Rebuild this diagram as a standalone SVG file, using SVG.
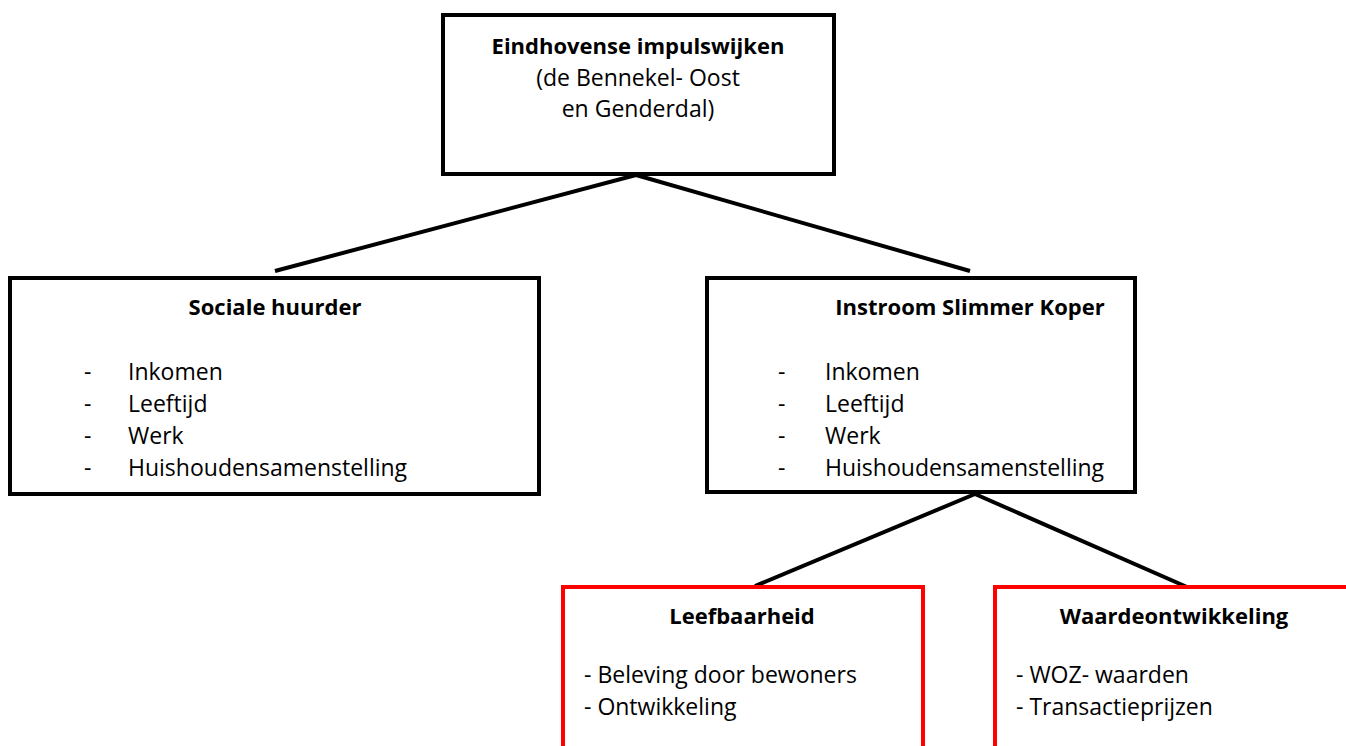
<svg xmlns="http://www.w3.org/2000/svg" width="1346" height="746" viewBox="0 0 1346 746">
<style>
.box{fill:#fff;stroke:#000;stroke-width:4}
.red{fill:#fff;stroke:#ff0000;stroke-width:4}
.conn{stroke:#000;stroke-width:4;fill:none}
text{font-family:"Open Sans","Liberation Sans",sans-serif;font-size:23px;fill:#000}
.b{font-weight:bold;font-size:22px}
.c{text-anchor:middle}
</style>
<rect width="1346" height="746" fill="#fff"/>
<g id="connectors">
<line class="conn" x1="636" y1="175" x2="275" y2="271"/>
<line class="conn" x1="636" y1="175" x2="970" y2="271"/>
<line class="conn" x1="975" y1="494" x2="755" y2="586"/>
<line class="conn" x1="975" y1="494" x2="1187" y2="587"/>
</g>
<g id="top">
<rect class="box" x="443" y="15" width="391" height="159"/>
<text class="b c" x="638" y="54">Eindhovense impulswijken</text>
<text class="c" x="638" y="86">(de Bennekel- Oost</text>
<text class="c" x="638" y="117">en Genderdal)</text>
</g>
<g id="sociale">
<rect class="box" x="10" y="278" width="529" height="216"/>
<text class="b c" x="275" y="315">Sociale huurder</text>
<text x="84" y="380">-</text><text x="128" y="380">Inkomen</text>
<text x="84" y="412">-</text><text x="128" y="412">Leeftijd</text>
<text x="84" y="444">-</text><text x="128" y="444">Werk</text>
<text x="84" y="476">-</text><text x="128" y="476">Huishoudensamenstelling</text>
</g>
<g id="instroom">
<rect class="box" x="707" y="278" width="428" height="214"/>
<text class="b c" x="970" y="315">Instroom Slimmer Koper</text>
<text x="778" y="380">-</text><text x="825" y="380">Inkomen</text>
<text x="778" y="412">-</text><text x="825" y="412">Leeftijd</text>
<text x="778" y="444">-</text><text x="825" y="444">Werk</text>
<text x="778" y="476">-</text><text x="825" y="476">Huishoudensamenstelling</text>
</g>
<g id="leefbaarheid">
<rect class="red" x="563" y="587" width="360" height="175"/>
<text class="b c" x="742" y="624">Leefbaarheid</text>
<text x="584" y="683">- Beleving door bewoners</text>
<text x="584" y="715">- Ontwikkeling</text>
</g>
<g id="waarde">
<rect class="red" x="995" y="587" width="370" height="175"/>
<text class="b c" x="1174" y="624">Waardeontwikkeling</text>
<text x="1016" y="683">- WOZ- waarden</text>
<text x="1016" y="715">- Transactieprijzen</text>
</g>
</svg>
